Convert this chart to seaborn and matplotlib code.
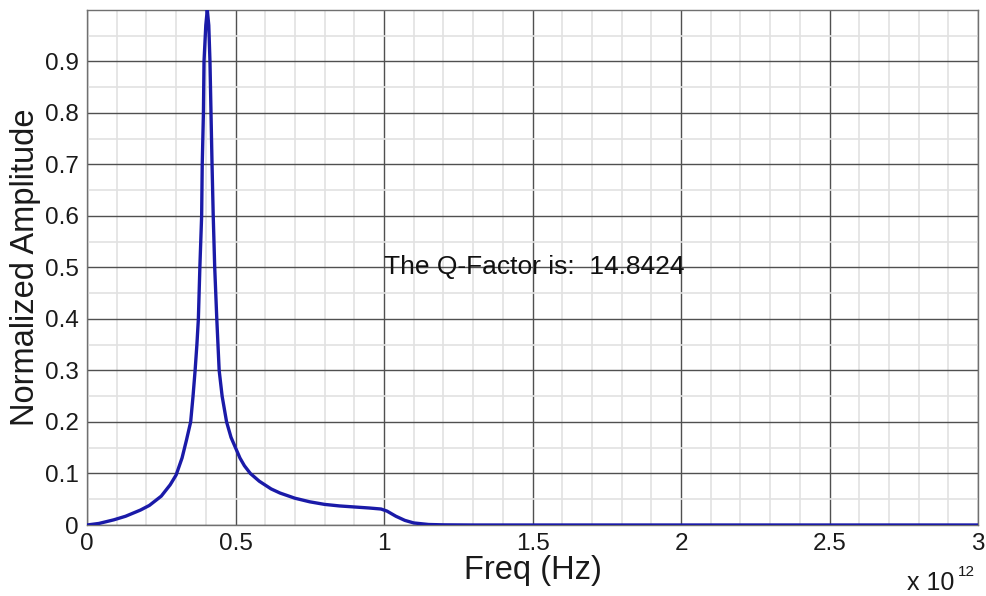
import matplotlib
matplotlib.use("Agg")
import matplotlib.pyplot as plt
from matplotlib.ticker import MultipleLocator
import numpy as np
import pandas as pd
import seaborn as sns

# Resonance spectrum: frequency in units of 1e12 Hz, normalized amplitude
freq_thz = [
    0.0, 0.04, 0.09, 0.13, 0.18, 0.21, 0.25, 0.28, 0.30, 0.32, 0.335, 0.349,
    0.357, 0.364, 0.370, 0.375, 0.380, 0.386, 0.388, 0.392, 0.394, 0.400,
    0.405, 0.410, 0.414, 0.4175, 0.421, 0.425, 0.430, 0.437, 0.445, 0.455,
    0.47, 0.485, 0.50, 0.515, 0.53, 0.55, 0.58, 0.62, 0.65, 0.70, 0.75,
    0.80, 0.85, 0.90, 0.95, 0.99, 1.01, 1.04, 1.07, 1.10, 1.15, 1.20, 1.30,
    2.0, 3.0,
]
amplitude = [
    0.0, 0.003, 0.010, 0.017, 0.029, 0.038, 0.056, 0.078, 0.097, 0.13, 0.165,
    0.20, 0.25, 0.30, 0.35, 0.40, 0.50, 0.60, 0.70, 0.80, 0.90, 0.97,
    1.00, 0.97, 0.90, 0.80, 0.70, 0.60, 0.50, 0.40, 0.30, 0.25,
    0.20, 0.17, 0.15, 0.13, 0.115, 0.10, 0.085, 0.07, 0.062, 0.052, 0.045,
    0.040, 0.037, 0.035, 0.033, 0.031, 0.027, 0.017, 0.009, 0.004, 0.001,
    0.0003, 0.0, 0.0, 0.0,
]
q_factor = 14.8424

x_ticks = [0.0, 0.5, 1.0, 1.5, 2.0, 2.5, 3.0]
x_tick_labels = ["0", "0.5", "1", "1.5", "2", "2.5", "3"]
y_ticks = [0.0, 0.1, 0.2, 0.3, 0.4, 0.5, 0.6, 0.7, 0.8, 0.9]
y_tick_labels = ["0", "0.1", "0.2", "0.3", "0.4", "0.5", "0.6", "0.7", "0.8", "0.9"]

df = pd.DataFrame({"freq": np.array(freq_thz) * 1e12, "amp": amplitude})

sns.set_style("white")
plt.rcParams["font.family"] = ["Liberation Sans", "DejaVu Sans"]

fig = plt.figure(figsize=(9.86, 5.96), dpi=100)
ax = fig.add_axes([87 / 986, 1 - 525 / 596, (978 - 87) / 986, (525 - 10) / 596])

sns.lineplot(data=df, x="freq", y="amp", ax=ax, color="#1a1aa8", linewidth=2.4,
             estimator=None, sort=False, zorder=3)

ax.set_xlim(0, 3e12)
ax.set_ylim(0, 0.9995)
ax.set_xticks([t * 1e12 for t in x_ticks])
ax.set_xticklabels(x_tick_labels)
ax.set_yticks(y_ticks)
ax.set_yticklabels(y_tick_labels)
ax.xaxis.set_minor_locator(MultipleLocator(0.1e12))
ax.yaxis.set_minor_locator(MultipleLocator(0.05))

ax.grid(which="major", color="#505050", linewidth=1.0, zorder=1)
ax.grid(which="minor", color="#e2e2e2", linewidth=1.2, zorder=0)
ax.set_axisbelow(True)

ax.tick_params(which="both", direction="in", length=0, labelsize=17.5, pad=6,
               colors="#1a1a1a")
for sp in ax.spines.values():
    sp.set_color("#707070")
    sp.set_linewidth(1.0)

ax.set_xlabel("Freq (Hz)", fontsize=23.5, labelpad=0, color="#1a1a1a")
ax.set_ylabel("Normalized Amplitude", fontsize=23.5, labelpad=3, color="#1a1a1a")

ax.text(1.0e12, 0.5, f"The Q-Factor is:  {q_factor:.4f}", fontsize=19,
        ha="left", va="center", color="#111111", zorder=4)

# Exponent of the frequency axis
fig.text(907 / 986, 1 - 590 / 596, "x 10", fontsize=18, ha="left",
         va="baseline", color="#1a1a1a")
fig.text(958 / 986, 1 - 576 / 596, "12", fontsize=11, ha="left",
         va="baseline", color="#1a1a1a")

fig.savefig("out.png", dpi=100)
